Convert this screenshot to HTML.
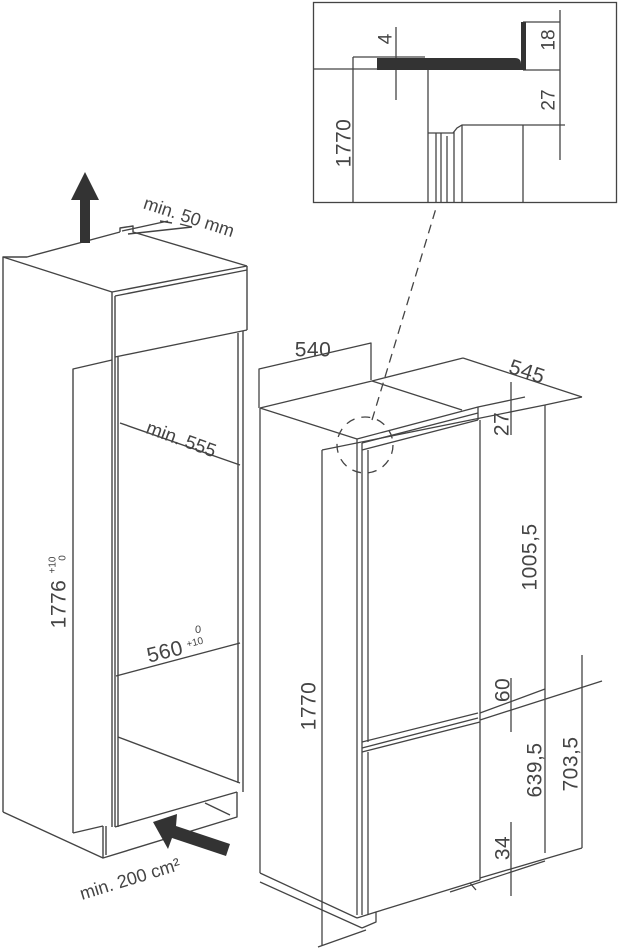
<!DOCTYPE html>
<html><head><meta charset="utf-8"><style>
html,body{margin:0;padding:0;background:#fff;}
svg{display:block}
text{font-family:"Liberation Sans","DejaVu Sans",sans-serif;fill:#444;text-anchor:middle;dominant-baseline:central;}
.d{font-size:21px;letter-spacing:0.5px}
</style></head><body>
<svg width="618" height="948" viewBox="0 0 618 948" xmlns="http://www.w3.org/2000/svg">
<g fill="none" stroke="#444" stroke-width="1.4" stroke-linejoin="round">
<polyline points="3,812 3,257 27,257 120,232"/>
<line x1="3" y1="257" x2="112" y2="292"/>
<polyline points="120,232 120,228 133,226 133,232 247,266"/>
<line x1="112" y1="292" x2="247" y2="266"/>
<line x1="115" y1="296" x2="247" y2="270"/>
<line x1="247" y1="266" x2="247" y2="330"/>
<line x1="115" y1="357" x2="247" y2="330"/>
<line x1="112" y1="292" x2="112" y2="827"/>
<line x1="115" y1="296" x2="115" y2="827"/>
<line x1="118" y1="357" x2="118" y2="827"/>
<line x1="238" y1="333" x2="238" y2="783"/>
<line x1="243" y1="331" x2="243" y2="792"/>
<polyline points="73,833 73,369 112,360"/>
<line x1="120" y1="423" x2="240" y2="465"/>
<line x1="116" y1="676" x2="240" y2="643"/>
<line x1="118" y1="737" x2="240" y2="783"/>
<line x1="3" y1="812" x2="103" y2="858"/>
<line x1="73" y1="833" x2="103" y2="826"/>
<polyline points="103,826 103,858 237,817 237,792"/>
<line x1="106" y1="826" x2="106" y2="855"/>
<line x1="115" y1="827" x2="237" y2="792"/>
<line x1="205" y1="803" x2="230" y2="815"/>
<line x1="122" y1="231" x2="168" y2="221"/>
<line x1="128" y1="234" x2="192" y2="227"/>
<line x1="160" y1="221" x2="172" y2="223"/>
<line x1="180" y1="224" x2="192" y2="227"/>
</g>
<polygon points="85,172 71,200 80,200 80,243 90,243 90,200 99,200" fill="#333"/>
<polygon points="153,822 177,814 176,826 230,844 226,856 172,838 168,849" fill="#333"/>

<text transform="translate(189,217) rotate(18)" style="font-size:18px">min. 50 mm</text>
<text transform="translate(181,440) rotate(20)" style="font-size:19px">min. 555</text>
<text transform="translate(59,604) rotate(-90)" class="d">1776</text>
<text transform="translate(53,565) rotate(-90)" style="font-size:10px">+10</text>
<text transform="translate(63,558) rotate(-90)" style="font-size:10px">0</text>
<text transform="translate(165,652) rotate(-14)" class="d">560</text>
<text transform="translate(195,643) rotate(-14)" style="font-size:10px">+10</text>
<text transform="translate(198,630)" style="font-size:11px">0</text>
<text transform="translate(130,879) rotate(-17)" style="font-size:18px">min. 200 cm²</text>

<g fill="none" stroke="#444" stroke-width="1.3" stroke-linejoin="round">
<line x1="260" y1="408" x2="260" y2="873"/>
<polyline points="260,408 372,381 462,410"/>
<line x1="372" y1="381" x2="463" y2="358"/>
<line x1="260" y1="408" x2="357" y2="439"/>
<polyline points="357,439 478,407 478,420"/>
<line x1="362" y1="443" x2="478" y2="413"/>
<line x1="362" y1="450" x2="478" y2="420"/>
<line x1="357" y1="439" x2="357" y2="915"/>
<line x1="362" y1="443" x2="362" y2="915"/>
<line x1="368" y1="450" x2="368" y2="742"/>
<line x1="480" y1="420" x2="480" y2="880"/>
<line x1="362" y1="742" x2="478" y2="713"/>
<line x1="362" y1="748" x2="478" y2="718"/>
<line x1="362" y1="752" x2="480" y2="722"/>
<line x1="368" y1="752" x2="368" y2="915"/>
<line x1="260" y1="873" x2="357" y2="918"/>
<line x1="260" y1="882" x2="362" y2="928"/>
<polyline points="357,918 376,912 376,922 362,928"/>
<line x1="376" y1="912" x2="480" y2="880"/>
<line x1="470" y1="883" x2="476" y2="890"/>
<polyline points="259,408 259,369 371,343 371,380"/>
<line x1="463" y1="358" x2="582" y2="397"/>
<line x1="322" y1="450" x2="322" y2="946"/>
<line x1="322" y1="450" x2="545" y2="405"/>
<line x1="478" y1="407" x2="525" y2="397"/>
<line x1="511" y1="382" x2="511" y2="435"/>
<line x1="545" y1="405" x2="545" y2="853"/>
<line x1="545" y1="405" x2="582" y2="397"/>
<line x1="480" y1="713" x2="545" y2="689"/>
<line x1="480" y1="720" x2="602" y2="681"/>
<line x1="511" y1="678" x2="511" y2="732"/>
<line x1="582" y1="655" x2="582" y2="848"/>
<line x1="480" y1="878" x2="582" y2="848"/>
<line x1="450" y1="892" x2="545" y2="861"/>
<line x1="511" y1="822" x2="511" y2="896"/>
<line x1="318" y1="947" x2="366" y2="930"/>
<circle cx="365" cy="445" r="28" stroke-dasharray="9,7"/>
<line x1="372" y1="420" x2="437" y2="205" stroke-dasharray="9,6"/>
</g>
<text x="313" y="350" class="d">540</text>
<text transform="translate(527,372) rotate(18)" class="d">545</text>
<text transform="translate(502,424) rotate(-90)" class="d">27</text>
<text transform="translate(530,557) rotate(-90)" class="d">1005,5</text>
<text transform="translate(309,706) rotate(-90)" class="d">1770</text>
<text transform="translate(503,690) rotate(-90)" class="d">60</text>
<text transform="translate(535,770) rotate(-90)" class="d">639,5</text>
<text transform="translate(571,764) rotate(-90)" class="d">703,5</text>
<text transform="translate(503,848) rotate(-90)" class="d">34</text>

<g fill="none" stroke="#444" stroke-width="1.3">
<rect x="313.5" y="2.5" width="303" height="200"/>
<line x1="313" y1="69" x2="377" y2="69"/>
<line x1="353" y1="57" x2="353" y2="203"/>
<line x1="353" y1="57" x2="425" y2="57"/>
<line x1="396" y1="27" x2="396" y2="100"/>
<line x1="428" y1="70" x2="428" y2="203"/>
<line x1="523" y1="22" x2="560" y2="22"/>
<line x1="523" y1="70" x2="560" y2="70"/>
<line x1="560" y1="10" x2="560" y2="160"/>
<polyline points="428,133 453,133 457,128 462,125 565,125"/>
<line x1="462" y1="125" x2="462" y2="203"/>
<line x1="523" y1="125" x2="523" y2="203"/>
<line x1="436" y1="133" x2="436" y2="203"/>
<line x1="441" y1="133" x2="441" y2="203"/>
<line x1="447" y1="136" x2="447" y2="203"/>
<line x1="454" y1="132" x2="454" y2="203"/>
</g>
<path d="M377,58 L515,58 Q521,58 521,64 L521,22 L526,22 L526,70 L377,70 Z" fill="#333"/>
<text transform="translate(344,143) rotate(-90)" class="d">1770</text>
<text transform="translate(386,39) rotate(-90)" style="font-size:19px">4</text>
<text transform="translate(549,40) rotate(-90)" style="font-size:19px">18</text>
<text transform="translate(549,100) rotate(-90)" style="font-size:19px">27</text>
</svg>
</body></html>
